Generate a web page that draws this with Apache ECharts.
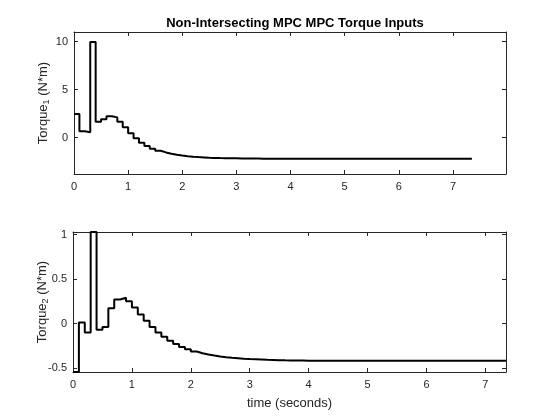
<!DOCTYPE html>
<html>
<head>
<meta charset="utf-8">
<script src="https://cdn.jsdelivr.net/npm/echarts@6/dist/echarts.min.js"></script>
<style>
html,body{margin:0;padding:0;background:#fff;}
#chart{width:560px;height:420px;}
</style>
</head>
<body>
<div id="chart"></div>
<script>
// sample times (s)
const time = [
  0.0,0.1,0.2,0.3,0.4,0.5,0.6,0.7,0.8,0.9,
  1.0,1.1,1.2,1.3,1.4,1.5,1.6,1.7,1.8,1.9,
  2.0,2.1,2.2,2.3,2.4,2.5,2.6,2.7,2.8,2.9,
  3.0,3.1,3.2,3.3,3.4,3.5,3.6,3.7,3.8,3.9,
  4.0,4.1,4.2,4.3,4.4,4.5,4.6,4.7,4.8,4.9,
  5.0,5.1,5.2,5.3,5.4,5.5,5.6,5.7,5.8,5.9,
  6.0,6.1,6.2,6.3,6.4,6.5,6.6,6.7,6.8,6.9,
  7.0,7.1,7.2,7.35
];
// Torque 1 (N*m)
const torque1 = [
  2.45,0.65,0.55,9.95,1.65,1.90,2.22,2.10,1.65,1.06,
  0.44,-0.08,-0.54,-0.89,-1.16,-1.37,-1.55,-1.68,-1.79,-1.88,
  -1.95,-2.00,-2.04,-2.07,-2.10,-2.12,-2.14,-2.15,-2.16,-2.17,
  -2.18,-2.18,-2.19,-2.19,-2.20,-2.20,-2.20,-2.20,-2.20,-2.20,
  -2.20,-2.20,-2.20,-2.20,-2.20,-2.20,-2.20,-2.20,-2.20,-2.20,
  -2.20,-2.20,-2.20,-2.20,-2.20,-2.20,-2.20,-2.20,-2.20,-2.20,
  -2.20,-2.20,-2.20,-2.20,-2.20,-2.20,-2.20,-2.20,-2.20,-2.20,
  -2.20,-2.20,-2.20,-2.20
];
// Torque 2 (N*m)
const torque2 = [
  -0.545,0.01,-0.10,1.028,-0.07,-0.04,0.17,0.27,0.29,0.25,
  0.18,0.10,0.03,-0.04,-0.10,-0.15,-0.195,-0.23,-0.265,-0.29,
  -0.315,-0.334,-0.348,-0.36,-0.37,-0.378,-0.385,-0.39,-0.395,-0.399,
  -0.402,-0.405,-0.408,-0.41,-0.412,-0.414,-0.415,-0.416,-0.417,-0.418,
  -0.419,-0.42,-0.42,-0.42,-0.42,-0.42,-0.42,-0.42,-0.42,-0.42,
  -0.42,-0.42,-0.42,-0.42,-0.42,-0.42,-0.42,-0.42,-0.42,-0.42,
  -0.42,-0.42,-0.42,-0.42,-0.42,-0.42,-0.42,-0.42,-0.42,-0.42,
  -0.42,-0.42,-0.42,-0.42
];
const xTicks = [0,1,2,3,4,5,6,7];
const y1Ticks = [0,5,10];
const y2Ticks = [-0.5,0,0.5,1];

const FONT = '"Liberation Sans", Arial, Helvetica, sans-serif';
const AX = '#262626';

function xAxisDef(gridIndex, pos, max, showLabel, name) {
  return {
    type: 'value', gridIndex: gridIndex, position: pos, min: 0, max: max,
    axisLine: {show: true, onZero: false, lineStyle: {color: AX, width: 1}},
    axisTick: {show: true, inside: true, length: 4, customValues: xTicks, lineStyle: {color: AX}},
    axisLabel: {show: showLabel, customValues: xTicks, color: AX, fontSize: 11, fontFamily: FONT, margin: 7},
    splitLine: {show: false},
    name: name || '', nameLocation: 'middle', nameGap: 25, nameMoveOverlap: false,
    nameTextStyle: {color: AX, fontSize: 13, fontFamily: FONT}
  };
}
function yAxisDef(gridIndex, pos, min, max, ticks, showLabel, name, fmt) {
  return {
    type: 'value', gridIndex: gridIndex, position: pos, min: min, max: max,
    axisLine: {show: true, onZero: false, lineStyle: {color: AX, width: 1}},
    axisTick: {show: true, inside: true, length: 4, customValues: ticks, lineStyle: {color: AX}},
    axisLabel: {show: showLabel, customValues: ticks, color: AX, fontSize: 11, fontFamily: FONT, margin: 6, formatter: fmt},
    splitLine: {show: false},
    name: name || '', nameLocation: 'middle', nameRotate: 90, nameGap: 23, nameMoveOverlap: false,
    nameTextStyle: {color: AX, fontSize: 13, fontFamily: FONT,
      rich: {s: {fontSize: 9, fontFamily: FONT, color: AX, verticalAlign: 'bottom', padding: [7, 0, 0, 0]}}}
  };
}
const fmt2 = v => (Math.abs(v) < 1e-9 ? '0' : String(v));

const chart = echarts.init(document.getElementById('chart'), null, {renderer: 'canvas'});
chart.setOption({
  animation: false,
  backgroundColor: '#ffffff',
  title: {
    text: 'Non-Intersecting MPC MPC Torque Inputs',
    left: 290, top: 12, textAlign: 'center',
    textStyle: {fontSize: 13, fontWeight: 'bold', color: '#000', fontFamily: FONT}
  },
  grid: [
    {left: 74, top: 32, width: 432, height: 142},
    {left: 73, top: 232, width: 433, height: 140}
  ],
  xAxis: [
    xAxisDef(0, 'bottom', 7.98, true),
    xAxisDef(0, 'top', 7.98, false),
    xAxisDef(1, 'bottom', 7.35, true, 'time (seconds)'),
    xAxisDef(1, 'top', 7.35, false)
  ],
  yAxis: [
    yAxisDef(0, 'left', -3.8, 11, y1Ticks, true, 'Torque{s|1} (N*m)', fmt2),
    yAxisDef(0, 'right', -3.8, 11, y1Ticks, false),
    yAxisDef(1, 'left', -0.545, 1.028, y2Ticks, true, 'Torque{s|2} (N*m)', fmt2),
    yAxisDef(1, 'right', -0.545, 1.028, y2Ticks, false)
  ],
  series: [
    {
      type: 'line', xAxisIndex: 0, yAxisIndex: 0, step: 'end', symbol: 'none',
      data: time.map((t, i) => [t, torque1[i]]),
      lineStyle: {color: '#000', width: 2}, clip: false
    },
    {
      type: 'line', xAxisIndex: 2, yAxisIndex: 2, step: 'end', symbol: 'none',
      data: time.map((t, i) => [t, torque2[i]]),
      lineStyle: {color: '#000', width: 2}, clip: false
    }
  ]
});
</script>
</body>
</html>
